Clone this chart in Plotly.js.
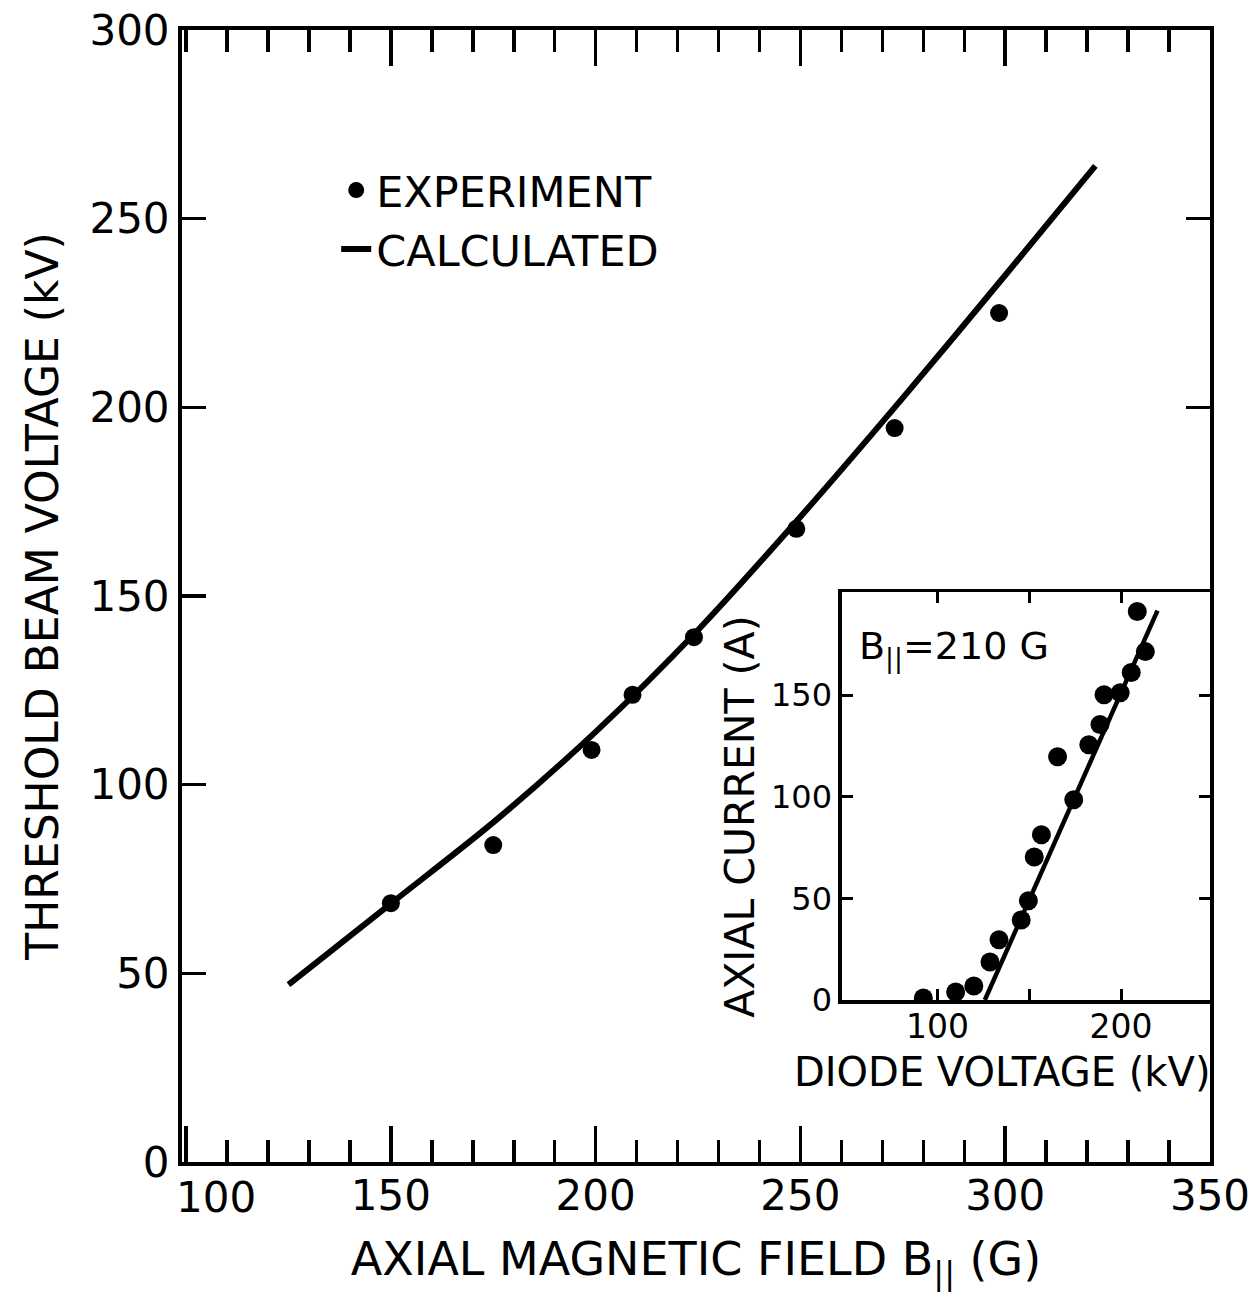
<!DOCTYPE html>
<html><head><meta charset="utf-8">
<script src="https://cdn.plot.ly/plotly-3.0.1.min.js"></script>
<style>html,body{margin:0;padding:0;background:#fff}#chart{width:1258px;height:1305px}</style>
</head><body><div id="chart"></div>
<script>
// Main panel: threshold beam voltage vs axial magnetic field
const fieldExp = [150, 175, 199, 209, 224, 249, 273, 298.5];
const voltExp  = [68.6, 84, 109.2, 123.8, 139.1, 167.8, 194.5, 225];
const fieldCalc = [125, 150, 175, 200, 225, 250, 275, 300, 322];
const voltCalc  = [47, 68.5, 90, 114, 141, 171, 202.5, 235, 264];
// Inset: axial current vs diode voltage (B = 210 G)
const diodeV  = [92.3, 109.9, 119.8, 128.6, 133.5, 145.6, 149.5, 152.7, 156.6, 165.4, 174.2, 182.4, 188.5, 190.7, 199.5, 205.5, 208.8, 213.2];
const axialI  = [1.0, 3.9, 6.9, 18.7, 29.6, 39.4, 48.8, 70.4, 81.3, 119.7, 98.5, 125.6, 135.5, 150.2, 151.2, 161.1, 191.1, 171.4];
const fitV = [125.8, 219.8];
const fitI = [0, 191.6];
// Tick labels
const mainXTicks = [150, 200, 250, 300, 350];
const mainXFirst = [100];
const mainYTicks = [0, 50, 100, 150, 200, 250, 300];
const rightYTicks = [200, 250];
const insetXTicks = [100, 200];
const insetXMinor = [150];
const insetYTicks = [0, 50, 100, 150];

const F = 'DejaVu Sans, sans-serif';
const K = '#000';

const traces = [
  {x: fieldCalc, y: voltCalc, type: 'scatter', mode: 'lines', name: 'CALCULATED',
   line: {color: K, width: 6, shape: 'spline', smoothing: 0.8}, xaxis: 'x', yaxis: 'y'},
  {x: fieldExp, y: voltExp, type: 'scatter', mode: 'markers', name: 'EXPERIMENT',
   marker: {color: K, size: 18}, xaxis: 'x', yaxis: 'y'},
  {x: [], y: [], type: 'scatter', mode: 'markers', showlegend: false, xaxis: 'x', yaxis: 'y3'},
  {x: [], y: [], type: 'scatter', mode: 'markers', showlegend: false, xaxis: 'x3', yaxis: 'y'},
  {x: fitV, y: fitI, type: 'scatter', mode: 'lines', showlegend: false,
   line: {color: K, width: 4.5}, xaxis: 'x2', yaxis: 'y2', cliponaxis: false},
  {x: diodeV, y: axialI, type: 'scatter', mode: 'markers', showlegend: false,
   marker: {color: K, size: 19}, xaxis: 'x2', yaxis: 'y2', cliponaxis: true}
];

const layout = {
  width: 1258, height: 1305,
  margin: {l: 182, r: 48, t: 30, b: 143},
  paper_bgcolor: '#fff', plot_bgcolor: '#fff',
  font: {family: F, color: K},
  showlegend: true,
  legend: {x: 0.15, y: 0.889, xanchor: 'left', yanchor: 'top', traceorder: 'reversed',
           font: {family: F, size: 43, color: K}, bgcolor: 'rgba(0,0,0,0)', itemwidth: 30},
  xaxis: {
    domain: [0, 1], anchor: 'y', range: [99, 350],
    tickmode: 'array', tickvals: mainXTicks, ticktext: mainXTicks.map(String),
    ticks: 'inside', ticklen: 36, tickwidth: 3.5, tickcolor: K,
    minor: {tickmode: 'linear', tick0: 100, dtick: 10, ticks: 'inside', ticklen: 22, tickwidth: 3.5, tickcolor: K, showgrid: false},
    showline: true, linewidth: 4, linecolor: K, mirror: 'ticks',
    showgrid: false, zeroline: false, ticklabelstandoff: -6,
    tickfont: {family: F, size: 42, color: K},
    title: {text: 'AXIAL MAGNETIC FIELD B<sub>||</sub> (G)', font: {family: F, size: 46, color: K}, standoff: 24}
  },
  xaxis3: {
    overlaying: 'x', side: 'bottom', anchor: 'y', range: [99, 350],
    tickmode: 'array', tickvals: mainXFirst, ticktext: mainXFirst.map(String),
    ticks: 'inside', ticklen: 36, tickwidth: 3.5, tickcolor: K,
    ticklabelshift: 30, ticklabelstandoff: 7,
    showline: false, showgrid: false, zeroline: false,
    tickfont: {family: F, size: 42, color: K}
  },
  yaxis: {
    domain: [0, 1], anchor: 'x', range: [0, 300],
    tickmode: 'array', tickvals: mainYTicks, ticktext: mainYTicks.map(String),
    ticks: 'inside', ticklen: 24, tickwidth: 3.5, tickcolor: K,
    showline: true, linewidth: 4, linecolor: K, mirror: true,
    showgrid: false, zeroline: false,
    tickfont: {family: F, size: 42, color: K},
    title: {text: 'THRESHOLD BEAM VOLTAGE (kV)', font: {family: F, size: 44, color: K}, standoff: 18}
  },
  yaxis3: {
    overlaying: 'y', side: 'right', anchor: 'x', range: [0, 300],
    tickmode: 'array', tickvals: rightYTicks, showticklabels: false,
    ticks: 'inside', ticklen: 24, tickwidth: 3.5, tickcolor: K,
    showline: false, showgrid: false, zeroline: false
  },
  xaxis2: {
    domain: [0.642, 1], anchor: 'y2', range: [48, 248.4],
    tickmode: 'array', tickvals: insetXTicks, ticktext: insetXTicks.map(String),
    ticks: 'inside', ticklen: 11, tickwidth: 3, tickcolor: K,
    minor: {tickmode: 'array', tickvals: insetXMinor, ticks: 'inside', ticklen: 11, tickwidth: 3, tickcolor: K, showgrid: false},
    showline: true, linewidth: 3.5, linecolor: K, mirror: 'ticks',
    showgrid: false, zeroline: false, ticklabelstandoff: -5,
    tickfont: {family: F, size: 33, color: K}
  },
  yaxis2: {
    domain: [0.1431, 0.5035], anchor: 'x2', range: [0, 200.7],
    tickmode: 'array', tickvals: insetYTicks, ticktext: insetYTicks.map(String),
    ticks: 'inside', ticklen: 11, tickwidth: 3, tickcolor: K,
    showline: true, linewidth: 3.5, linecolor: K, mirror: 'ticks',
    showgrid: false, zeroline: false,
    tickfont: {family: F, size: 32, color: K}
  },
  annotations: [
    {xref: 'x2 domain', yref: 'y2 domain', x: 0.04, y: 0.86, xanchor: 'left', yanchor: 'middle',
     text: 'B<sub>||</sub>=210 G', showarrow: false, font: {family: F, size: 38, color: K}},
    {xref: 'x2 domain', yref: 'y2 domain', x: 0.436, y: -0.176, xanchor: 'center', yanchor: 'middle',
     text: 'DIODE VOLTAGE (kV)', showarrow: false, font: {family: F, size: 40, color: K}},
    {xref: 'x2 domain', yref: 'y2 domain', x: -0.276, y: 0.45, xanchor: 'center', yanchor: 'middle',
     text: 'AXIAL CURRENT (A)', textangle: -90, showarrow: false, font: {family: F, size: 41, color: K}},
    {xref: 'x2', yref: 'y2', axref: 'x2', ayref: 'y2', x: fitV[0], y: -2.5, ax: fitV[0], ay: -24.6,
     text: '', showarrow: true, arrowhead: 2, arrowsize: 1, arrowwidth: 2.5, arrowcolor: K}
  ]
};

Plotly.newPlot('chart', traces, layout, {displayModeBar: false, staticPlot: true});
</script>
</body></html>
